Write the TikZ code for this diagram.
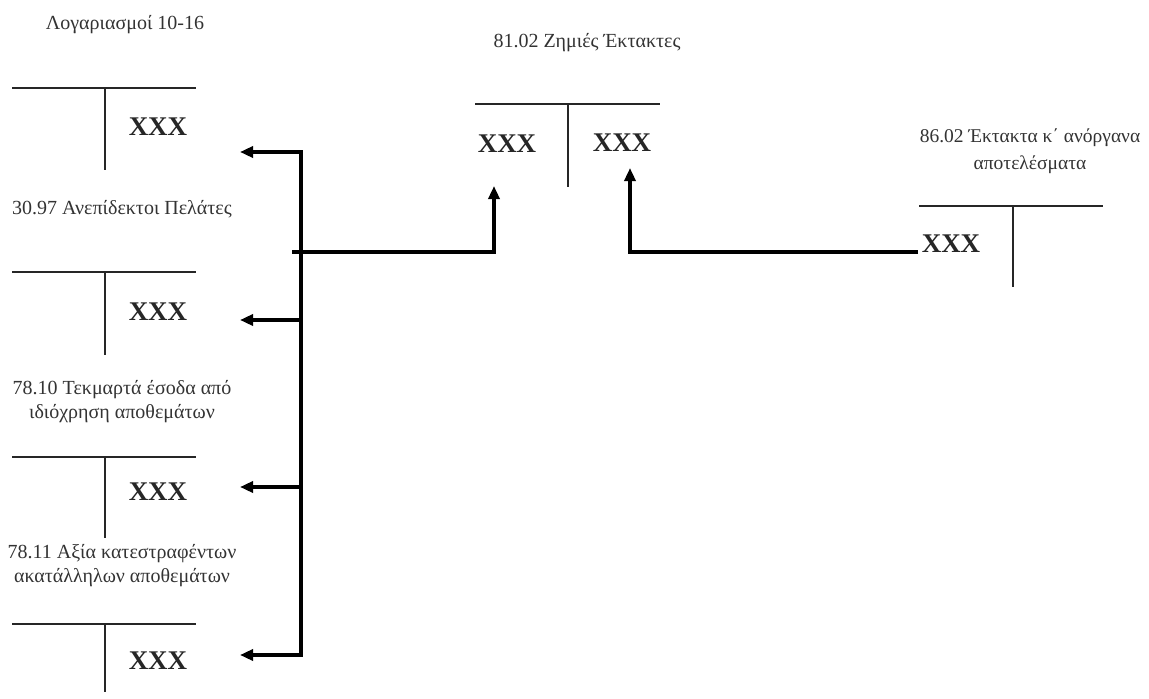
\documentclass[tikz,border=0pt]{standalone}
\usepackage{fontspec}
\setmainfont{Liberation Serif}
\usetikzlibrary{arrows.meta}
\begin{document}
\begin{tikzpicture}[x=1pt,y=-1pt,
  tline/.style={line width=1.6pt, black!85},
  conn/.style={line width=3.6pt, -{Triangle[length=13pt,width=11pt]}},
  bus/.style={line width=4.5pt},
  lbl/.style={font=\fontsize{20}{24}\selectfont, align=center, text=black!80, inner sep=0pt},
  amt/.style={font=\fontsize{27}{28}\selectfont\bfseries, text=black!85, inner sep=0pt}]
\useasboundingbox (0,0) rectangle (1149,699);

% --- left column T-accounts ---
\node[lbl] (l1) at (125,25) {Λογαριασμοί 10-16};
\draw[tline] (12,88) -- (196,88) (105,88) -- (105,170);
\node[amt] (x1) at (158,127) {XXX};

\node[lbl] (l2) at (122,209) {30.97 Ανεπίδεκτοι Πελάτες};
\draw[tline] (12,272) -- (196,272) (105,272) -- (105,355);
\node[amt] (x2) at (158,312) {XXX};

\node[lbl] (l3) at (122,402) {78.10 Τεκμαρτά έσοδα από\\ιδιόχρηση αποθεμάτων};
\draw[tline] (12,457) -- (196,457) (105,457) -- (105,538);
\node[amt] (x3) at (158,492) {XXX};

\node[lbl] (l4) at (122,566) {78.11 Αξία κατεστραφέντων\\ακατάλληλων αποθεμάτων};
\draw[tline] (12,624) -- (196,624) (105,624) -- (105,692);
\node[amt] (x4) at (158,661) {XXX};

% --- 81.02 ---
\node[lbl] (l5) at (587,43) {81.02 Ζημιές Έκτακτες};
\draw[tline] (475,104) -- (660,104) (568,104) -- (568,187);
\node[amt] (x5) at (507,144) {XXX};
\node[amt] (x6) at (622,143) {XXX};

% --- 86.02 ---
\node[lbl, font=\fontsize{19.5}{27}\selectfont] (l6) at (1030,151) {86.02 Έκτακτα κ΄ ανόργανα\\αποτελέσματα};
\draw[tline] (919,206) -- (1103,206) (1013,206) -- (1013,287);
\node[amt] (x7) at (951,244) {XXX};

% --- connectors ---
\coordinate (bt) at (301,150);
\coordinate (bb) at (301,657);
\coordinate (b1) at (301,152);
\coordinate (b2) at (301,320);
\coordinate (b3) at (301,487);
\coordinate (b4) at (301,655);
\coordinate (t1) at (240,152);
\coordinate (t2) at (240,320);
\coordinate (t3) at (240,487);
\coordinate (t4) at (240,655);
\coordinate (ms) at (292,252);
\coordinate (mc) at (494,252);
\coordinate (mt) at (494,186);
\coordinate (rs) at (918,252);
\coordinate (rc) at (630,252);
\coordinate (rt) at (630,168);

\draw[bus] (bt) -- (bb);
\draw[conn] (b1) -- (t1);
\draw[conn] (b2) -- (t2);
\draw[conn] (b3) -- (t3);
\draw[conn] (b4) -- (t4);
\draw[conn] (ms) -- (mc) -- (mt);
\draw[conn] (rs) -- (rc) -- (rt);
\end{tikzpicture}
\end{document}
